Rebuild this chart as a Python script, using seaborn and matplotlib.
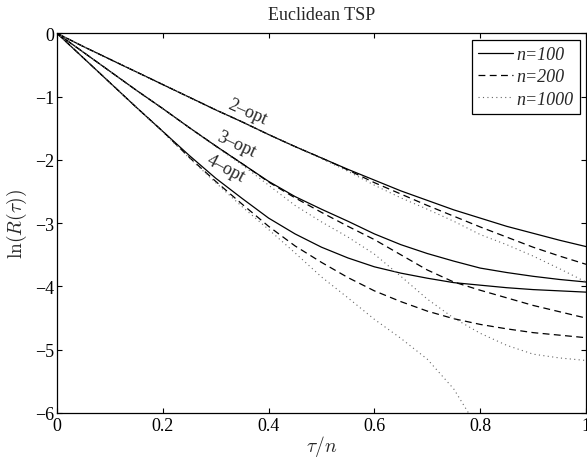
import numpy as np
import pandas as pd
import matplotlib
matplotlib.use("Agg")
import matplotlib.pyplot as plt
import seaborn as sns

# ---- data ----
tau = [0.0, 0.05, 0.1, 0.15, 0.2, 0.25, 0.3, 0.35, 0.4, 0.45, 0.5,
       0.55, 0.6, 0.65, 0.7, 0.75, 0.8, 0.85, 0.9, 0.95, 1.0]

opt2_n100 = [0, -0.21, -0.41, -0.61, -0.81, -1.01, -1.21, -1.40, -1.60, -1.79, -1.97,
             -2.15, -2.32, -2.49, -2.64, -2.79, -2.92, -3.05, -3.16, -3.27, -3.37]
opt2_n200 = [0, -0.21, -0.41, -0.61, -0.81, -1.01, -1.21, -1.40, -1.60, -1.79, -1.97,
             -2.16, -2.36, -2.54, -2.72, -2.89, -3.06, -3.22, -3.38, -3.52, -3.65]
opt2_n1000 = [0, -0.21, -0.41, -0.61, -0.81, -1.01, -1.21, -1.40, -1.60, -1.79, -1.98,
              -2.18, -2.40, -2.60, -2.78, -2.97, -3.18, -3.34, -3.52, -3.72, -3.93]

opt3_n100 = [0, -0.30, -0.60, -0.90, -1.19, -1.49, -1.78, -2.06, -2.34, -2.58, -2.78,
             -2.97, -3.17, -3.34, -3.48, -3.60, -3.71, -3.78, -3.84, -3.89, -3.93]
opt3_n200 = [0, -0.30, -0.60, -0.90, -1.19, -1.49, -1.78, -2.06, -2.35, -2.60, -2.83,
             -3.05, -3.26, -3.50, -3.74, -3.93, -4.06, -4.18, -4.30, -4.40, -4.50]
opt3_n1000 = [0, -0.30, -0.60, -0.90, -1.19, -1.49, -1.79, -2.08, -2.40, -2.72, -2.98,
              -3.22, -3.49, -3.84, -4.20, -4.50, -4.74, -4.93, -5.07, -5.13, -5.17]

opt4_n100 = [0, -0.39, -0.78, -1.17, -1.55, -1.93, -2.29, -2.61, -2.92, -3.17, -3.38,
             -3.55, -3.69, -3.79, -3.87, -3.94, -3.98, -4.02, -4.05, -4.07, -4.09]
opt4_n200 = [0, -0.39, -0.78, -1.17, -1.55, -1.96, -2.34, -2.70, -3.05, -3.36, -3.62,
             -3.86, -4.07, -4.24, -4.39, -4.51, -4.60, -4.67, -4.73, -4.77, -4.81]
opt4_n1000 = [0, -0.39, -0.78, -1.17, -1.56, -1.97, -2.36, -2.74, -3.10, -3.47, -3.85,
              -4.18, -4.52, -4.82, -5.15, -5.62, -6.30, np.nan, np.nan, np.nan, np.nan]

series = {
    ("2-opt", "n=100"): opt2_n100, ("2-opt", "n=200"): opt2_n200, ("2-opt", "n=1000"): opt2_n1000,
    ("3-opt", "n=100"): opt3_n100, ("3-opt", "n=200"): opt3_n200, ("3-opt", "n=1000"): opt3_n1000,
    ("4-opt", "n=100"): opt4_n100, ("4-opt", "n=200"): opt4_n200, ("4-opt", "n=1000"): opt4_n1000,
}
n_levels = ["n=100", "n=200", "n=1000"]

rows = []
for (meth, n), vals in series.items():
    for t, v in zip(tau, vals):
        rows.append({"tau": t, "lnR": v, "method": meth, "n": n})
df = pd.DataFrame(rows).dropna()

# ---- style ----
sns.set_style("ticks")
plt.rcParams["font.family"] = ["Liberation Serif", "DejaVu Serif"]
plt.rcParams["mathtext.fontset"] = "cm"
plt.rcParams["axes.linewidth"] = 0.9
plt.rcParams["axes.edgecolor"] = "black"

fig = plt.figure(figsize=(5.87, 4.60), dpi=100)
ax = fig.add_axes([57 / 587, 1 - 414 / 460, 529 / 587, (414 - 34.3) / 460])

styles = {"n=100": dict(color="black", lw=0.9, ls="-"),
          "n=200": dict(color="black", lw=0.9, ls=(0, (5.5, 3.5))),
          "n=1000": dict(color="#666666", lw=0.8, ls=(0, (1, 3)))}
for n in n_levels:
    sub = df[df["n"] == n]
    sns.lineplot(data=sub, x="tau", y="lnR", units="method", estimator=None,
                 ax=ax, label=n, **styles[n])

ax.set_xlim(0, 1)
ax.set_ylim(-6, 0)
ax.set_xticks([0, 0.2, 0.4, 0.6, 0.8, 1])
ax.set_xticklabels(["0", "0.2", "0.4", "0.6", "0.8", "1"])
ax.set_yticks([0, -1, -2, -3, -4, -5, -6])
ax.tick_params(direction="in", length=3.6, width=0.8, top=True, right=True,
               labelsize=13, colors="black")
ax.tick_params(axis="x", pad=3)
ax.tick_params(axis="y", pad=2)
for s in ax.spines.values():
    s.set_visible(True)
    s.set_color("black")

ax.set_title("Euclidean TSP", fontsize=13, pad=10)
ax.set_xlabel(r"$\tau/n$", fontsize=14, labelpad=-1)
ax.set_ylabel(r"$\ln(R(\tau))$", fontsize=14, labelpad=4)

ax.text(0.359, -1.24, "2–opt", rotation=-24, ha="center", va="center", fontsize=13)
ax.text(0.338, -1.75, "3–opt", rotation=-25, ha="center", va="center", fontsize=13)
ax.text(0.319, -2.13, "4–opt", rotation=-28, ha="center", va="center", fontsize=13)

handles, labels = ax.get_legend_handles_labels()
seen = {}
for h, l in zip(handles, labels):
    if l not in seen:
        seen[l] = h
leg = ax.legend([seen[l] for l in n_levels], n_levels, loc="upper right", frameon=True,
                fancybox=False, edgecolor="black", framealpha=1,
                handlelength=1.9, handletextpad=0.2, borderpad=0.35,
                labelspacing=0.3, borderaxespad=0.35,
                prop={"style": "italic", "size": 13, "family": "Liberation Serif"})
leg.get_frame().set_linewidth(0.9)

fig.savefig("out.png", dpi=100)
